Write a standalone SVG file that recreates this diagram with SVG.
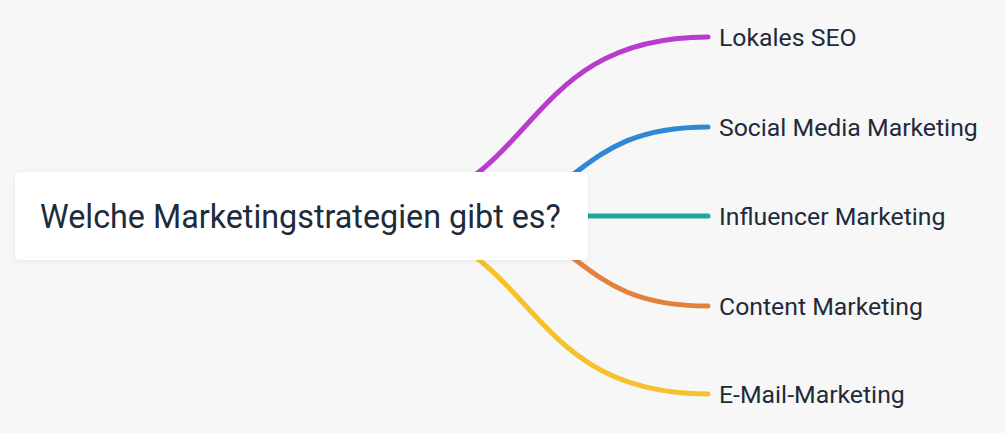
<svg xmlns="http://www.w3.org/2000/svg" width="1006" height="433" viewBox="0 0 1006 433">
  <defs>
    <filter id="shadow" x="-5%" y="-20%" width="110%" height="140%">
      <feDropShadow dx="0" dy="1" stdDeviation="3" flood-color="#000" flood-opacity="0.06"/>
    </filter>
  </defs>
  <style>
    .edge { fill: none; stroke-width: 5; stroke-linecap: round; }
    .label { font-family: Roboto, "Noto Sans", sans-serif; font-size: 24.8px; fill: #1e2b3a; }
    .root { font-family: Roboto, "Noto Sans", sans-serif; font-size: 32.3px; fill: #1e2b3a; }
  </style>
  <rect width="1006" height="433" fill="#f7f7f8"/>
  <g id="connectors">
    <path class="edge" stroke="#b93ccf" d="M342,216 C545,216 505,37 708,37"/>
    <path class="edge" stroke="#2f87d5" d="M446,216 C589,216 565,127 708,127"/>
    <path class="edge" stroke="#1fa99a" d="M450,216 L708,216"/>
    <path class="edge" stroke="#e1813c" d="M446,216 C589,216 565,306 708,306"/>
    <path class="edge" stroke="#f5c12c" d="M342,216 C545,216 505,394 708,394"/>
  </g>
  <g id="root">
    <rect x="15" y="172" width="573" height="88" rx="6" fill="#ffffff" filter="url(#shadow)"/>
    <text class="root" x="40" y="228">Welche Marketingstrategien gibt es?</text>
  </g>
  <g id="n1"><text class="label" x="719" y="46">Lokales SEO</text></g>
  <g id="n2"><text class="label" x="719" y="136">Social Media Marketing</text></g>
  <g id="n3"><text class="label" x="719" y="225">Influencer Marketing</text></g>
  <g id="n4"><text class="label" x="719" y="315">Content Marketing</text></g>
  <g id="n5"><text class="label" x="719" y="403">E-Mail-Marketing</text></g>
</svg>
